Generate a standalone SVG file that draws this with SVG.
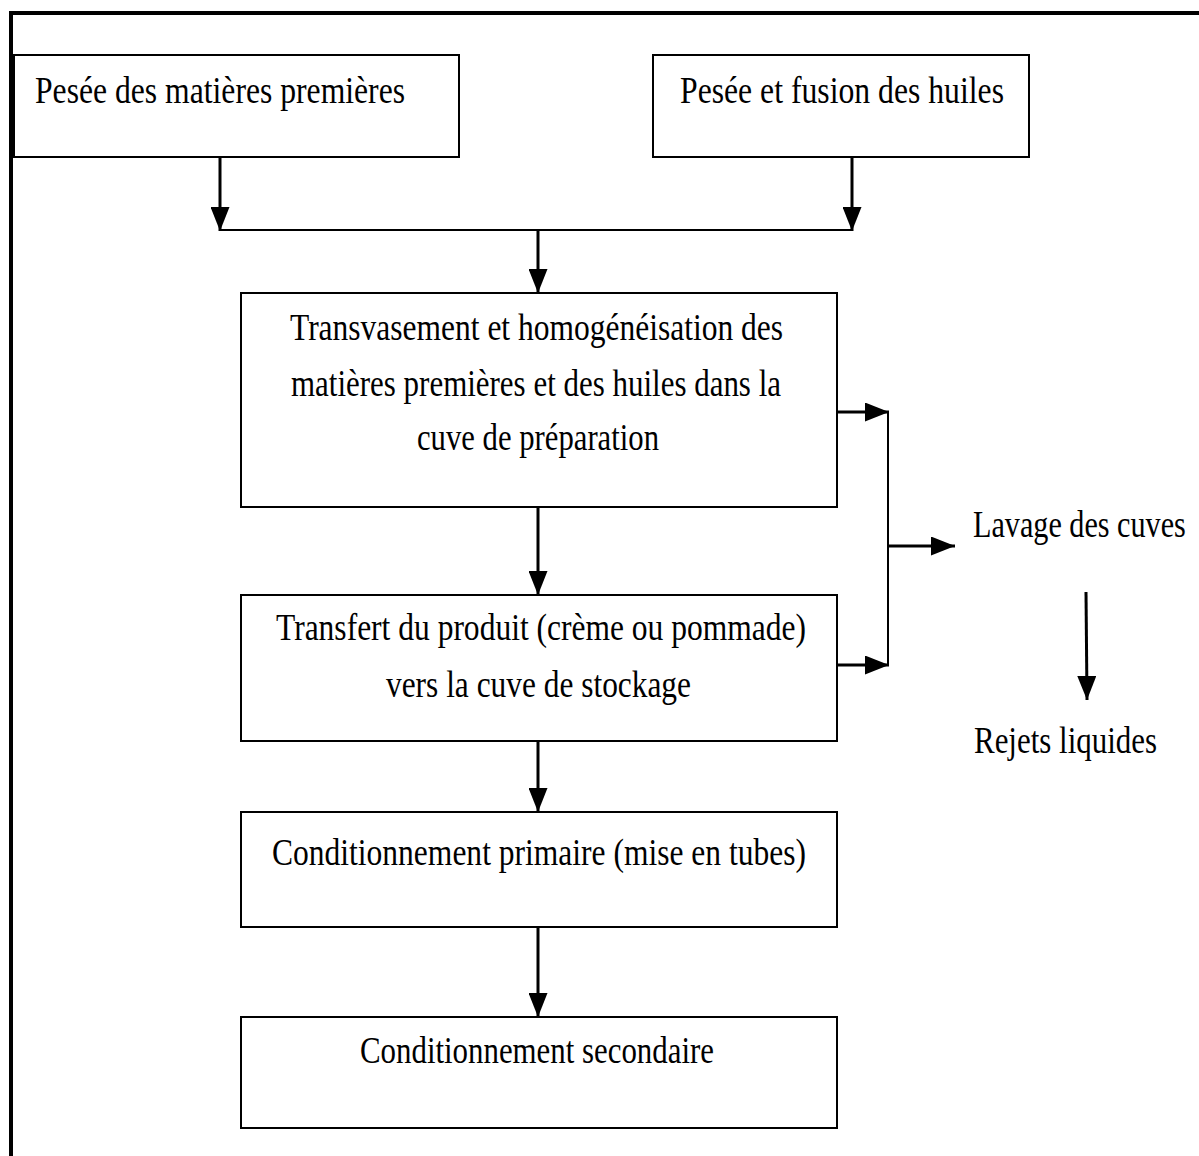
<svg xmlns="http://www.w3.org/2000/svg" width="1199" height="1156" viewBox="0 0 1199 1156">
  <defs>
    <marker id="head" viewBox="0 0 24 19" refX="24" refY="9.5" markerWidth="24" markerHeight="19" markerUnits="userSpaceOnUse" orient="auto">
      <path d="M0,0 L24,9.5 L0,19 Z" fill="#000"/>
    </marker>
    <style>
      .box { fill: #fff; stroke: #000; stroke-width: 2; }
      .lbl { font-family: "Liberation Serif", "Times New Roman", serif; font-size: 37px; fill: #000; }
      .flow { fill: none; stroke: #000; stroke-width: 3; }
      .join { fill: none; stroke: #000; stroke-width: 2; }
    </style>
  </defs>

  <rect width="1199" height="1156" fill="#fff"/>
  <!-- outer frame (top and left edges visible) -->
  <path d="M11,1160 L11,13 L1205,13" fill="none" stroke="#000" stroke-width="4"/>

  <g id="n-pesee-mp">
    <rect class="box" x="14" y="55" width="445" height="102"/>
    <text class="lbl" x="35" y="103" textLength="370" lengthAdjust="spacingAndGlyphs">Pesée  des matières premières</text>
  </g>

  <g id="n-pesee-huiles">
    <rect class="box" x="653" y="55" width="376" height="102"/>
    <text class="lbl" x="680" y="103" textLength="324" lengthAdjust="spacingAndGlyphs">Pesée  et fusion des huiles</text>
  </g>

  <g id="n-transvasement">
    <rect class="box" x="241" y="293" width="596" height="214"/>
    <text class="lbl" x="290" y="340" textLength="493" lengthAdjust="spacingAndGlyphs">Transvasement  et homogénéisation des</text>
    <text class="lbl" x="291" y="396" textLength="490" lengthAdjust="spacingAndGlyphs">matières premières et des huiles dans la</text>
    <text class="lbl" x="417" y="450" textLength="242" lengthAdjust="spacingAndGlyphs">cuve de préparation</text>
  </g>

  <g id="n-transfert">
    <rect class="box" x="241" y="595" width="596" height="146"/>
    <text class="lbl" x="276" y="640" textLength="530" lengthAdjust="spacingAndGlyphs">Transfert du produit (crème ou pommade)</text>
    <text class="lbl" x="386" y="697" textLength="305" lengthAdjust="spacingAndGlyphs">vers la cuve de stockage</text>
  </g>

  <g id="n-cond-primaire">
    <rect class="box" x="241" y="812" width="596" height="115"/>
    <text class="lbl" x="272" y="865" textLength="534" lengthAdjust="spacingAndGlyphs">Conditionnement  primaire (mise en tubes)</text>
  </g>

  <g id="n-cond-secondaire">
    <rect class="box" x="241" y="1017" width="596" height="111"/>
    <text class="lbl" x="360" y="1063" textLength="354" lengthAdjust="spacingAndGlyphs">Conditionnement secondaire</text>
  </g>

  <g id="n-lavage">
    <text class="lbl" transform="translate(973,537) scale(0.816,1)">Lavage des cuves</text>
  </g>

  <g id="n-rejets">
    <text class="lbl" x="974" y="753" textLength="183" lengthAdjust="spacingAndGlyphs">Rejets liquides</text>
  </g>

  <g id="connectors">
    <!-- inputs merging into preparation -->
    <path class="flow" d="M220,157 L220,231" marker-end="url(#head)"/>
    <path class="flow" d="M852,157 L852,231" marker-end="url(#head)"/>
    <path class="join" d="M220,230 L852,230"/>
    <path class="flow" d="M538,230 L538,293" marker-end="url(#head)"/>
    <!-- main process chain -->
    <path class="flow" d="M538,507 L538,595" marker-end="url(#head)"/>
    <path class="flow" d="M538,741 L538,812" marker-end="url(#head)"/>
    <path class="flow" d="M538,927 L538,1017" marker-end="url(#head)"/>
    <!-- tank washing branch -->
    <path class="flow" d="M837,412 L889,412" stroke-width="5" marker-end="url(#head)"/>
    <path class="flow" d="M837,665 L889,665" stroke-width="4" marker-end="url(#head)"/>
    <path class="join" d="M888,411 L888,666"/>
    <path class="flow" d="M888,546 L955,546" marker-end="url(#head)"/>
    <path class="flow" d="M1086,592 L1087,700" marker-end="url(#head)"/>
  </g>
</svg>
